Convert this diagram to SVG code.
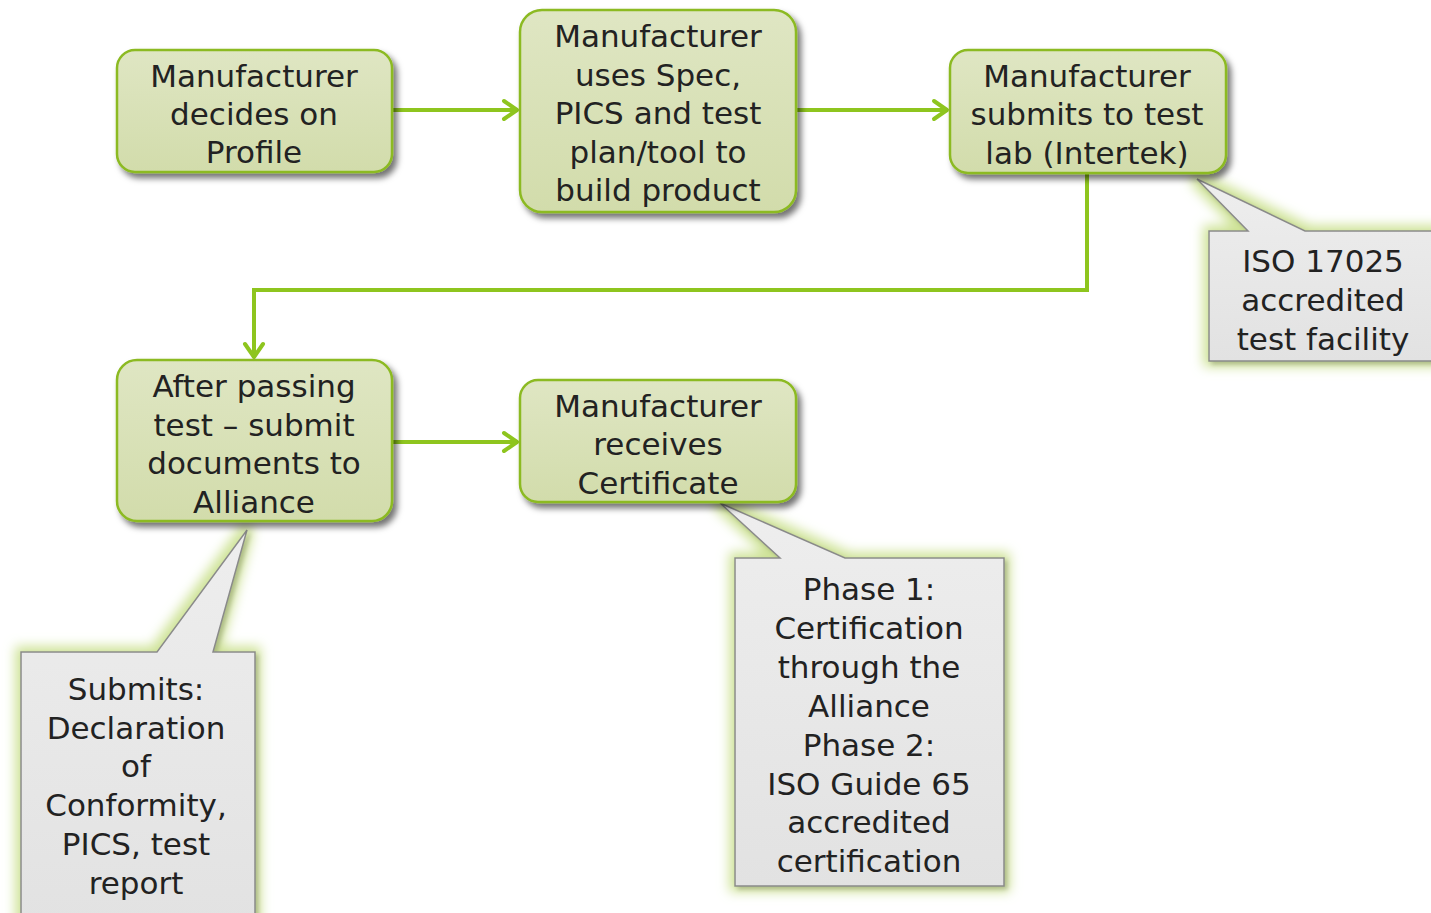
<svg xmlns="http://www.w3.org/2000/svg" width="1431" height="913" viewBox="0 0 1431 913">
<style>
.node{fill:url(#nodeGrad);stroke:#8cba24;stroke-width:2.5;filter:url(#shadow)}
.callout{fill:url(#callGrad);stroke:#8a8a8a;stroke-width:1.5;filter:url(#glow)}
.conn{fill:none;stroke:#8ec51e;stroke-width:4;marker-end:url(#arrow)}
text{font-family:"DejaVu Sans","Liberation Sans",sans-serif;font-size:31px;fill:#222;text-anchor:middle}
</style>
<defs>
<linearGradient id="nodeGrad" x1="0" y1="0" x2="0" y2="1">
<stop offset="0" stop-color="#dfe6c3"/>
<stop offset="1" stop-color="#d2dcab"/>
</linearGradient>
<linearGradient id="callGrad" x1="0" y1="0" x2="0" y2="1">
<stop offset="0" stop-color="#eeeeee"/>
<stop offset="1" stop-color="#e2e2e2"/>
</linearGradient>
<filter id="shadow" x="-10%" y="-10%" width="125%" height="135%">
<feGaussianBlur in="SourceAlpha" stdDeviation="3"/>
<feOffset dx="4" dy="5" result="b"/>
<feFlood flood-color="#000" flood-opacity="0.55"/>
<feComposite in2="b" operator="in" result="s"/>
<feMerge><feMergeNode in="s"/><feMergeNode in="SourceGraphic"/></feMerge>
</filter>
<filter id="glow" x="-20%" y="-20%" width="140%" height="140%">
<feMorphology in="SourceAlpha" operator="dilate" radius="5" result="d"/>
<feGaussianBlur in="d" stdDeviation="6" result="db"/>
<feFlood flood-color="#cfe398"/>
<feComposite in2="db" operator="in" result="g"/>
<feGaussianBlur in="SourceAlpha" stdDeviation="2"/>
<feOffset dx="3" dy="3" result="sb"/>
<feFlood flood-color="#000" flood-opacity="0.35"/>
<feComposite in2="sb" operator="in" result="s"/>
<feMerge><feMergeNode in="g"/><feMergeNode in="s"/><feMergeNode in="SourceGraphic"/></feMerge>
</filter>
<marker id="arrow" markerUnits="userSpaceOnUse" markerWidth="24" markerHeight="26" viewBox="-18 -13 24 26" refX="0" refY="0" orient="auto">
<path d="M-13,-9 L0,0 L-13,9" fill="none" stroke="#8ec51e" stroke-width="4" stroke-linecap="round" stroke-linejoin="round"/>
</marker>
</defs>
<rect width="1431" height="913" fill="#ffffff"/>

<g id="callout-iso">
<path class="callout" d="M1209,231 L1248,231 L1197,179 L1305,231 L1445,231 L1445,361 L1209,361 Z"/>
<text x="1323" y="272">ISO 17025</text>
<text x="1323" y="311">accredited</text>
<text x="1323" y="350">test facility</text>
</g>
<g id="callout-submits">
<path class="callout" d="M21,652 L157,652 L247,530 L213,652 L255,652 L255,925 L21,925 Z"/>
<text x="136" y="700">Submits:</text>
<text x="136" y="739">Declaration</text>
<text x="136" y="777">of</text>
<text x="136" y="816">Conformity,</text>
<text x="136" y="855">PICS, test</text>
<text x="136" y="894">report</text>
</g>
<g id="callout-phase">
<path class="callout" d="M735,558 L780,558 L720,503 L845,558 L1004,558 L1004,886 L735,886 Z"/>
<text x="869" y="600">Phase 1:</text>
<text x="869" y="639">Certification</text>
<text x="869" y="678">through the</text>
<text x="869" y="717">Alliance</text>
<text x="869" y="756">Phase 2:</text>
<text x="869" y="795">ISO Guide 65</text>
<text x="869" y="833">accredited</text>
<text x="869" y="872">certification</text>
</g>

<g id="connectors">
<line class="conn" x1="392" y1="110" x2="517" y2="110"/>
<line class="conn" x1="796" y1="110" x2="947" y2="110"/>
<polyline class="conn" points="1087,173 1087,290 254,290 254,357"/>
<line class="conn" x1="392" y1="442" x2="517" y2="442"/>
</g>

<g id="node-decides">
<rect class="node" x="117" y="50" width="275" height="122" rx="18"/>
<text x="254" y="87">Manufacturer</text>
<text x="254" y="125">decides on</text>
<text x="254" y="163">Profile</text>
</g>
<g id="node-uses-spec">
<rect class="node" x="520" y="10" width="276" height="202" rx="22"/>
<text x="658" y="47">Manufacturer</text>
<text x="658" y="86">uses Spec,</text>
<text x="658" y="124">PICS and test</text>
<text x="658" y="163">plan/tool to</text>
<text x="658" y="201">build product</text>
</g>
<g id="node-submits-lab">
<rect class="node" x="950" y="50" width="276" height="123" rx="18"/>
<text x="1087" y="87">Manufacturer</text>
<text x="1087" y="125">submits to test</text>
<text x="1087" y="164">lab (Intertek)</text>
</g>
<g id="node-after-passing">
<rect class="node" x="117" y="360" width="275" height="161" rx="20"/>
<text x="254" y="397">After passing</text>
<text x="254" y="436">test – submit</text>
<text x="254" y="474">documents to</text>
<text x="254" y="513">Alliance</text>
</g>
<g id="node-receives">
<rect class="node" x="520" y="380" width="276" height="122" rx="18"/>
<text x="658" y="417">Manufacturer</text>
<text x="658" y="455">receives</text>
<text x="658" y="494">Certificate</text>
</g>
</svg>
